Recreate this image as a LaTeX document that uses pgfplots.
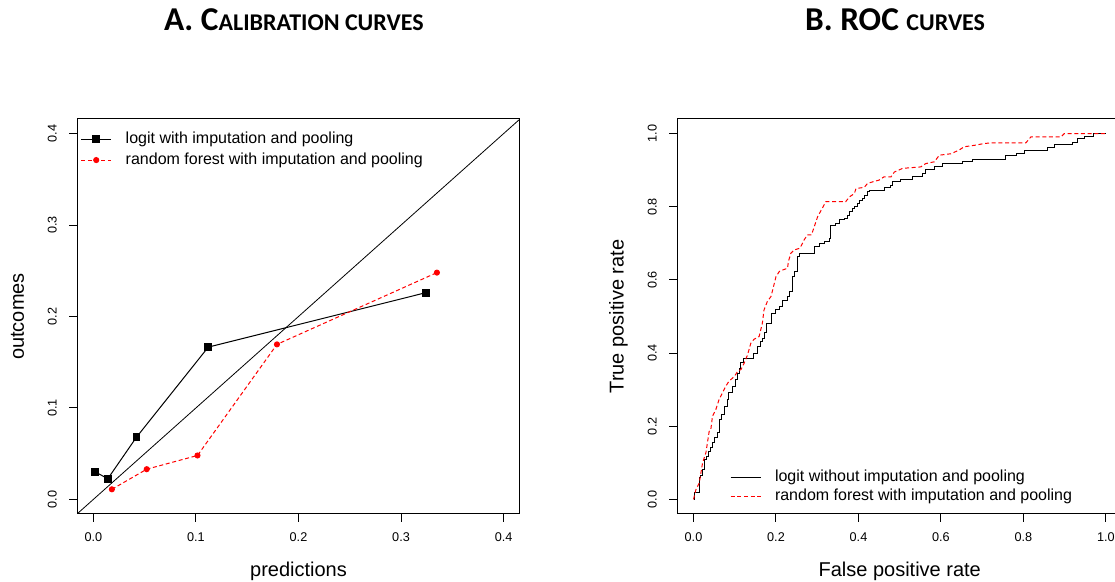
\documentclass[border=0pt]{standalone}
\usepackage{pgfplots}
\pgfplotsset{compat=1.18}
\usepackage{fontspec}
\setmainfont{Liberation Sans}
\newfontfamily\titlefont{Carlito}

% R-like base graphics look: boxed axes, outward ticks, rotated y tick labels
\pgfplotsset{
  rbase/.style={
    scale only axis,
    anchor=south west,
    axis line style={black, line width=0.75pt},
    tick style={black, line width=0.75pt},
    tick align=outside,
    major tick length=6pt,
    xtick pos=left, ytick pos=left,
    xticklabel shift=8pt,
    yticklabel shift=9pt,
    ticklabel style={font=\fontsize{9.5}{11}\selectfont, inner sep=0pt},
    xticklabel style={anchor=north},
    yticklabel style={rotate=90, anchor=south},
    /pgf/number format/assume math mode=true,
    /pgf/number format/fixed,
    /pgf/number format/fixed zerofill,
    /pgf/number format/precision=1,
    label style={font=\fontsize{15}{18}\selectfont, inner sep=0pt},
    xlabel style={at={(axis description cs:0.5,-0.157)}, anchor=base},
    ylabel style={at={(axis description cs:-0.120,0.5)}, anchor=base, rotate=0},
    title style={at={(axis description cs:0.5,1)}, anchor=base, yshift=60.5pt, xshift=-3.5pt, font=\titlefont\bfseries},
    legend cell align=left,
    legend style={draw=none, fill=none, inner sep=0pt, outer sep=0pt,
      font=\fontsize{12}{14}\selectfont,
      nodes={inner sep=0pt, text height=8.7pt, text depth=2.5pt},
      /tikz/every odd column/.append style={column sep=10.5pt}},
    legend image code/.code={
      \draw[mark repeat=2,mark phase=2,#1] plot coordinates {(0pt,0pt) (11.25pt,0pt) (22.5pt,0pt)};
    },
  },
  rdash/.style={red, line width=0.75pt, dash pattern=on 3pt off 2pt},
}

\begin{document}
\begin{tikzpicture}
\useasboundingbox (0,0) rectangle (836.25pt,436.5pt);
\clip (0,0) rectangle (836.25pt,436.5pt);

% ---------------- A: calibration curves ----------------
\begin{axis}[rbase,
  at={(57.75pt,51pt)}, width=332.25pt, height=296.25pt,
  xmin=-0.016, xmax=0.416, ymin=-0.016, ymax=0.416,
  xtick={0,0.1,0.2,0.3,0.4}, ytick={0,0.1,0.2,0.3,0.4},
  xlabel={predictions}, ylabel={outcomes},
  title={{\fontsize{25}{30}\selectfont A. C}{\fontsize{18}{22}\selectfont ALIBRATION CURVES}},
  legend style={at={(axis description cs:0,1)}, anchor=north west, xshift=2.8pt, yshift=-9.7pt, row sep=4.3pt},
]
\addplot[black, line width=0.6pt, forget plot] coordinates {(-0.1,-0.1) (0.5,0.5)};
\addplot[black, line width=0.75pt, mark=square*, mark size=2.6pt] coordinates {
  (0.002,0.030) (0.014,0.0225) (0.042,0.068) (0.112,0.1665) (0.324,0.226)
};
\addlegendentry{logit with imputation and pooling}
\addplot[rdash, mark=*, mark size=1.9pt, mark options={solid, fill=red}] coordinates {
  (0.018,0.011) (0.052,0.033) (0.1015,0.048) (0.179,0.1695) (0.335,0.248)
};
\addlegendentry{random forest with imputation and pooling}
\end{axis}

% ---------------- B: ROC curves ----------------
\begin{axis}[rbase,
  at={(507.75pt,51pt)}, width=334.1pt, height=296.25pt,
  xmin=-0.04, xmax=1.04, ymin=-0.04, ymax=1.04,
  xtick={0,0.2,0.4,0.6,0.8,1}, ytick={0,0.2,0.4,0.6,0.8,1},
  xlabel={False positive rate}, ylabel={True positive rate},
  title={{\fontsize{25}{30}\selectfont B. ROC }{\fontsize{18}{22}\selectfont CURVES}},
  legend style={at={(axis description cs:0,0)}, anchor=south west, xshift=39.75pt, yshift=7.4pt, row sep=3pt},
]
\addplot[black, line width=0.75pt, const plot mark left] coordinates {
  (0.000,0.000) (0.002,0.018) (0.010,0.018) (0.014,0.059) (0.018,0.064)
  (0.022,0.082) (0.026,0.109) (0.032,0.118) (0.036,0.132) (0.042,0.141)
  (0.046,0.155) (0.052,0.168) (0.058,0.182) (0.062,0.218) (0.068,0.232)
  (0.074,0.255) (0.082,0.273) (0.086,0.291) (0.095,0.309) (0.103,0.327)
  (0.107,0.345) (0.111,0.359) (0.115,0.373) (0.121,0.386) (0.146,0.400)
  (0.155,0.418) (0.162,0.432) (0.167,0.441) (0.173,0.455) (0.178,0.482)
  (0.189,0.509) (0.200,0.518) (0.208,0.527) (0.216,0.545) (0.228,0.555)
  (0.232,0.568) (0.240,0.609) (0.244,0.623) (0.251,0.664) (0.256,0.673)
  (0.293,0.691) (0.305,0.700) (0.317,0.705) (0.329,0.714) (0.333,0.750)
  (0.345,0.755) (0.353,0.764) (0.365,0.768) (0.373,0.777) (0.378,0.786)
  (0.386,0.795) (0.390,0.800) (0.398,0.809) (0.402,0.818) (0.410,0.823)
  (0.414,0.832) (0.422,0.841) (0.426,0.845) (0.462,0.853) (0.477,0.859)
  (0.483,0.868) (0.503,0.875) (0.531,0.884) (0.555,0.891) (0.563,0.902)
  (0.584,0.909) (0.604,0.918) (0.652,0.923) (0.677,0.930) (0.757,0.941)
  (0.782,0.947) (0.802,0.955) (0.859,0.962) (0.875,0.970) (0.919,0.977)
  (0.931,0.986) (0.947,0.993) (0.970,1.000) (1.000,1.000)
};
\addlegendentry{logit without imputation and pooling}
\addplot[rdash] coordinates {
  (0.000,0.000) (0.006,0.027) (0.014,0.045) (0.022,0.100) (0.030,0.127)
  (0.038,0.186) (0.042,0.191) (0.046,0.227) (0.054,0.245) (0.062,0.273)
  (0.070,0.291) (0.078,0.309) (0.086,0.323) (0.099,0.336) (0.107,0.350)
  (0.115,0.355) (0.123,0.373) (0.131,0.395) (0.139,0.427) (0.147,0.438)
  (0.159,0.445) (0.167,0.482) (0.171,0.518) (0.179,0.541) (0.188,0.555)
  (0.194,0.582) (0.200,0.609) (0.208,0.623) (0.216,0.627) (0.228,0.632)
  (0.230,0.650) (0.236,0.673) (0.244,0.682) (0.256,0.686) (0.260,0.691)
  (0.268,0.709) (0.276,0.723) (0.286,0.723) (0.301,0.773) (0.321,0.814)
  (0.369,0.814) (0.378,0.827) (0.390,0.836) (0.394,0.850) (0.414,0.853)
  (0.422,0.864) (0.434,0.868) (0.450,0.873) (0.462,0.882) (0.479,0.882)
  (0.487,0.895) (0.507,0.905) (0.551,0.909) (0.563,0.918) (0.584,0.923)
  (0.596,0.941) (0.624,0.945) (0.644,0.955) (0.656,0.964) (0.681,0.968)
  (0.705,0.973) (0.725,0.975) (0.806,0.975) (0.818,0.991) (0.891,0.991)
  (0.899,1.000) (1.000,1.000)
};
\addlegendentry{random forest with imputation and pooling}
\end{axis}
\end{tikzpicture}
\end{document}
